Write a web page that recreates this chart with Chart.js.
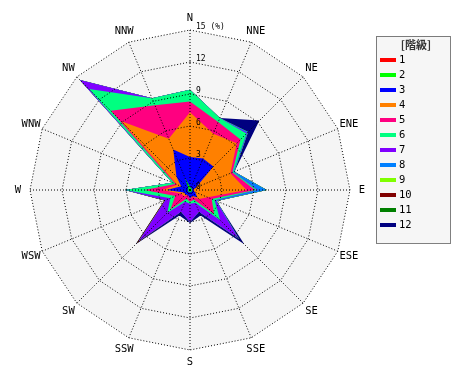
<!DOCTYPE html>
<html>
<head>
<meta charset="utf-8">
<script src="https://cdn.jsdelivr.net/npm/chart.js@4/dist/chart.umd.min.js"></script>
<style>
  html, body { margin: 0; padding: 0; background: #fff; }
  #wrap { width: 470px; height: 380px; }
</style>
</head>
<body>
<div id="wrap"><canvas id="rose" width="470" height="380"></canvas></div>
<script>
// 16 directions, clockwise from north
const directions = ['N', 'NNE', 'NE', 'ENE', 'E', 'ESE', 'SE', 'SSE', 'S', 'SSW', 'SW', 'WSW', 'W', 'WNW', 'NW', 'NNW'];

// frequency (%) per class, same order as directions
const class1  = [0.1, 0.1, 0.1, 0.1, 0.1, 0.1, 0.1, 0.1, 0.1, 0.1, 0.1, 0.1, 0.1, 0.1, 0.1, 0.1];
const class2  = [0.2, 0.1, 0.1, 0.1, 0.1, 0.1, 0.1, 0.1, 0.1, 0.1, 0.1, 0.1, 0.1, 0.1, 0.1, 1.1];
const class3  = [2.8, 3.0, 2.9, 0.4, 0.1, 0.3, 0.8, 0.4, 0.6, 0.3, 0.4, 0.4, 2.0, 0.7, 1.6, 2.9];
const class4  = [4.2, 2.5, 3.1, 3.5, 5.0, 1.3, 0.2, 0.1, 0.0, 0.0, 0.2, 0.3, 0.4, 0.4, 7.3, 1.1];
const class5  = [1.0, 1.2, 0.5, 0.2, 0.8, 0.4, 2.0, 0.3, 0.3, 0.4, 1.8, 0.6, 1.7, 0.2, 1.4, 3.4];
const class6  = [1.1, 0.4, 0.8, 0.1, 0.2, 0.3, 0.8, 0.3, 0.2, 0.3, 0.4, 0.5, 1.8, 0.3, 2.9, 0.7];
const class7  = [0.0, 0.0, 0.1, 0.0, 0.1, 0.1, 2.4, 0.9, 1.7, 1.0, 3.8, 0.5, 0.0, 0.0, 1.2, 0.0];
const class8  = [0.0, 0.0, 0.1, 0.1, 0.8, 0.1, 0.1, 0.0, 0.0, 0.0, 0.0, 0.0, 0.0, 0.0, 0.0, 0.0];
const class9  = [0.0, 0.0, 0.0, 0.0, 0.0, 0.0, 0.0, 0.0, 0.0, 0.0, 0.0, 0.0, 0.0, 0.0, 0.0, 0.0];
const class10 = [0.0, 0.0, 0.0, 0.0, 0.0, 0.0, 0.0, 0.0, 0.0, 0.0, 0.3, 0.1, 0.0, 0.0, 0.0, 0.0];
const class11 = [0.0, 0.0, 0.0, 0.0, 0.0, 0.0, 0.0, 0.0, 0.0, 0.0, 0.0, 0.0, 0.0, 0.0, 0.0, 0.0];
const class12 = [0.0, 0.0, 1.5, 0.0, 0.0, 0.0, 0.7, 0.4, 0.1, 0.4, 0.1, 0.0, 0.0, 0.0, 0.0, 0.0];

const classLabels = ['1', '2', '3', '4', '5', '6', '7', '8', '9', '10', '11', '12'];
const classColors = ['#ff0000', '#00ff00', '#0000ff', '#ff8000', '#ff0080', '#00ff80',
                     '#8000ff', '#0080ff', '#80ff00', '#800000', '#008000', '#000080'];
const radialTicks = [0, 3, 6, 9, 12, 15];

// stacked rose: each class polygon is the running total
const classes = [class1, class2, class3, class4, class5, class6, class7, class8, class9, class10, class11, class12];
let running = directions.map(() => 0);
const datasets = classes.map((vals, k) => {
  running = running.map((v, i) => Math.round((v + vals[i]) * 100) / 100);
  return {
    label: classLabels[k],
    data: running.slice(),
    backgroundColor: classColors[k],
    borderColor: 'rgba(0,0,0,0)',
    borderWidth: 0,
    pointRadius: 0,
    fill: 'origin'
  };
});

const MONO = '"DejaVu Sans Mono", monospace';

const roseDecor = {
  id: 'roseDecor',
  beforeDraw(chart) {
    // grey plate inside the outer ring
    const r = chart.scales.r;
    const ctx = chart.ctx;
    ctx.save();
    ctx.fillStyle = '#f5f5f5';
    ctx.beginPath();
    directions.forEach((d, i) => {
      const p = r.getPointPositionForValue(i, r.max);
      if (i === 0) ctx.moveTo(p.x, p.y); else ctx.lineTo(p.x, p.y);
    });
    ctx.closePath();
    ctx.fill();
    ctx.restore();
  },
  afterDraw(chart) {
    const r = chart.scales.r;
    const ctx = chart.ctx;
    ctx.save();

    // direction labels
    ctx.fillStyle = '#000';
    ctx.font = '10.5px ' + MONO;
    ctx.textAlign = 'center';
    ctx.textBaseline = 'middle';
    directions.forEach((d, i) => {
      const p = r.getPointPosition(i, r.drawingArea + 12);
      ctx.fillText(d, p.x, p.y);
    });

    // radial tick labels next to the north axis
    ctx.font = '8px ' + MONO;
    ctx.textAlign = 'left';
    radialTicks.forEach(v => {
      const dist = r.getDistanceFromCenterForValue(v);
      const txt = v === r.max ? v + ' (%)' : String(v);
      ctx.fillText(txt, r.xCenter + 6, r.yCenter - dist - 3);
    });

    // legend box
    const lx = 376, ly = 36, lw = 74, lh = 207;
    ctx.fillStyle = '#f6f6f6';
    ctx.fillRect(lx, ly, lw, lh);
    ctx.strokeStyle = '#000';
    ctx.lineWidth = 1;
    ctx.setLineDash([1, 1]);
    ctx.strokeRect(lx + 0.5, ly + 0.5, lw, lh);
    ctx.setLineDash([]);

    ctx.fillStyle = '#333';
    ctx.font = 'bold 11px "Noto Sans CJK JP", sans-serif';
    ctx.textAlign = 'center';
    ctx.fillText('[階級]', 416, 45);

    ctx.font = '10.5px ' + MONO;
    ctx.textAlign = 'left';
    chart.data.datasets.forEach((ds, k) => {
      const y = 60 + k * 15;
      ctx.fillStyle = ds.backgroundColor;
      ctx.fillRect(380, y - 2, 16, 4);
      ctx.fillStyle = '#000';
      ctx.fillText(ds.label, 399, y);
    });
    ctx.restore();
  }
};

new Chart(document.getElementById('rose'), {
  type: 'radar',
  data: { labels: directions, datasets: datasets },
  options: {
    responsive: false,
    animation: false,
    devicePixelRatio: 1,
    layout: { padding: { left: 30, right: 120, top: 30, bottom: 30 } },
    elements: { line: { tension: 0 } },
    plugins: {
      legend: { display: false },
      tooltip: { enabled: false }
    },
    scales: {
      r: {
        min: 0,
        max: 15,
        ticks: { display: false, stepSize: 3 },
        pointLabels: { display: false },
        grid: { circular: false, color: '#000', lineWidth: 1, z: 1, borderDash: [1, 2] },
        border: { dash: [1, 2] },
        angleLines: { color: '#000', lineWidth: 1, borderDash: [1, 2] }
      }
    }
  },
  plugins: [roseDecor]
});
</script>
</body>
</html>
